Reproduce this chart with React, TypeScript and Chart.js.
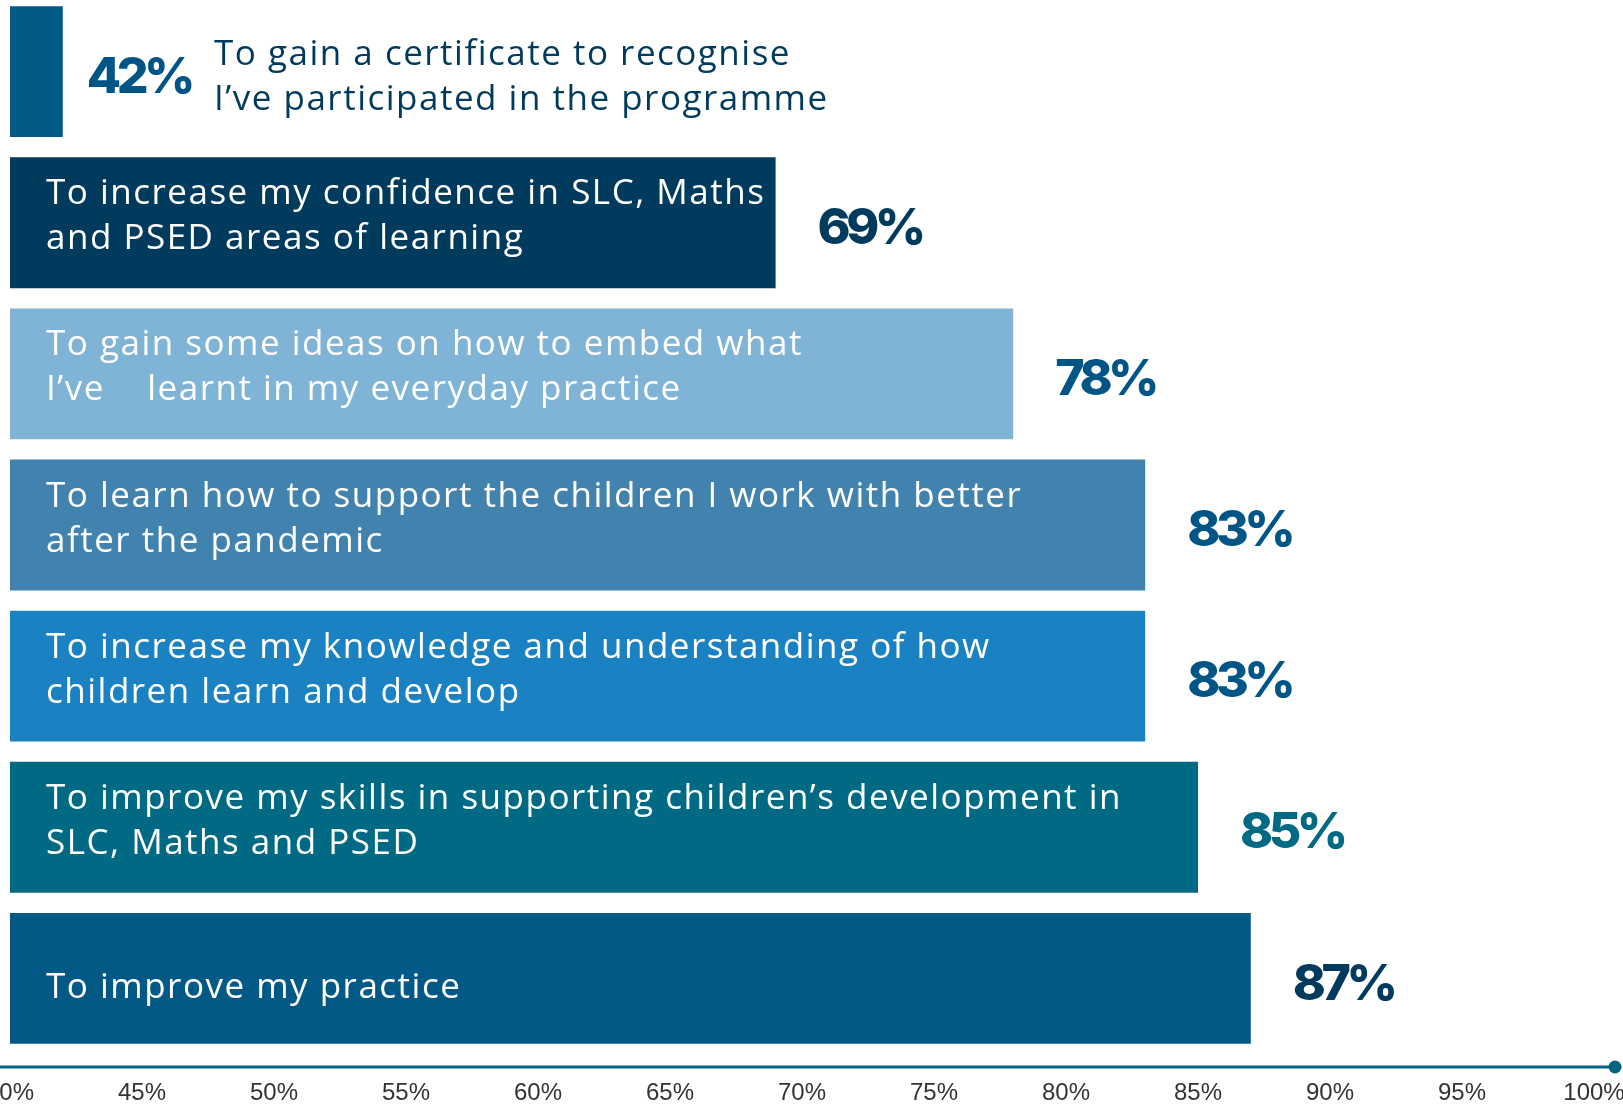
import React, { useEffect, useRef } from "react";
import { Chart, registerables } from "chart.js";

Chart.register(...registerables);

// ---------- data ----------
const categories: string[][] = [
  ["To gain a certificate to recognise", "I’ve participated in the programme"],
  ["To increase my confidence in SLC, Maths", "and PSED areas of learning"],
  ["To gain some ideas on how to embed what", "I’ve    learnt in my everyday practice"],
  ["To learn how to support the children I work with better", "after the pandemic"],
  ["To increase my knowledge and understanding of how", "children learn and develop"],
  ["To improve my skills in supporting children’s development in", "SLC, Maths and PSED"],
  ["To improve my practice"],
];
const values = [42, 69, 78, 83, 83, 85, 87];
const valueLabels = ["42%", "69%", "78%", "83%", "83%", "85%", "87%"];
const axisMin = 40;
const axisMax = 100;
const axisStep = 5;

// ---------- styles ----------
const barColors = ["#035a87", "#003a5d", "#7fb4d7", "#4183ae", "#1a82c2", "#006a85", "#035985"];
const valueColors = ["#005587", "#003a5d", "#005587", "#005587", "#005587", "#006a85", "#003a5d"];
const outsideTextColor = "#003a5d";
const TEXT_FONT = '"Open Sans", "Noto Sans", sans-serif';
const TEXT_SIZE = 35;
const TEXT_SPACING = "1.5px";
const PCT_FONT = 'Inter, "Noto Sans", sans-serif';
const PCT_SIZE = 50;
const PCT_SPACING = "-4.5px";

const W = 1623;
const H = 1110;

const barTextPlugin = {
  id: "barText",
  afterDatasetsDraw(chart: any) {
    const ctx: CanvasRenderingContext2D = chart.ctx;
    const meta = chart.getDatasetMeta(0);
    meta.data.forEach((bar: any, i: number) => {
      const p = bar.getProps(["x", "y", "base"], true);
      const x = p.x, y = p.y, base = p.base;
      const lines = categories[i];
      ctx.save();
      ctx.textAlign = "left";
      ctx.textBaseline = "alphabetic";

      // narrow bars carry their text outside, next to the value
      ctx.font = `400 ${TEXT_SIZE}px ${TEXT_FONT}`;
      (ctx as any).letterSpacing = TEXT_SPACING;
      const longest = Math.max(...lines.map((l) => ctx.measureText(l).width));
      const fitsInside = x - base > longest / 2;

      // percentage label
      ctx.font = `800 ${PCT_SIZE}px ${PCT_FONT}`;
      (ctx as any).letterSpacing = PCT_SPACING;
      ctx.fillStyle = valueColors[i];
      const pctX = x + (fitsInside ? 42 : 24);
      const capH = PCT_SIZE * 0.727;
      ctx.fillText(valueLabels[i], pctX, y + 3 + capH / 2);
      const pctW = ctx.measureText(valueLabels[i]).width;

      // category text
      ctx.font = `400 ${TEXT_SIZE}px ${TEXT_FONT}`;
      (ctx as any).letterSpacing = TEXT_SPACING;
      if (fitsInside) {
        ctx.fillStyle = "#ffffff";
        const tx = base + 36;
        if (lines.length === 1) {
          ctx.fillText(lines[0], tx, y + 20);
        } else {
          ctx.fillText(lines[0], tx, y - 18.5);
          ctx.fillText(lines[1], tx, y + 26.5);
        }
      } else {
        ctx.fillStyle = outsideTextColor;
        const tx = pctX + pctW + 23;
        ctx.fillText(lines[0], tx, y - 6.5);
        if (lines[1]) ctx.fillText(lines[1], tx, y + 38.5);
      }
      ctx.restore();
    });
  },
};

const axisLinePlugin = {
  id: "axisLine",
  afterDraw(chart: any) {
    const ctx: CanvasRenderingContext2D = chart.ctx;
    const ly = chart.chartArea.bottom + 13;
    const endX = chart.width - 8;
    ctx.save();
    ctx.strokeStyle = "#00657f";
    ctx.lineWidth = 3;
    ctx.beginPath();
    ctx.moveTo(0, ly);
    ctx.lineTo(endX, ly);
    ctx.stroke();
    ctx.fillStyle = "#00657f";
    ctx.beginPath();
    ctx.arc(endX, ly, 6.5, 0, Math.PI * 2);
    ctx.fill();
    ctx.restore();
  },
};

export default function App() {
  const canvasRef = useRef<HTMLCanvasElement | null>(null);

  useEffect(() => {
    const canvas = canvasRef.current;
    if (!canvas) return;
    const chart = new Chart(canvas, {
      type: "bar",
      data: {
        labels: categories,
        datasets: [
          {
            data: values,
            backgroundColor: barColors,
            borderWidth: 0,
            barPercentage: 0.866,
            categoryPercentage: 1,
            base: axisMin,
          },
        ],
      },
      options: {
        indexAxis: "y",
        responsive: false,
        animation: false,
        devicePixelRatio: 1,
        layout: { padding: { top: 2, bottom: 0, left: 10, right: 29 } },
        plugins: {
          legend: { display: false },
          tooltip: { enabled: false },
          title: { display: false },
        },
        scales: {
          x: {
            type: "linear",
            position: "bottom",
            min: axisMin,
            max: axisMax,
            grid: { display: false, drawTicks: false },
            border: { display: false },
            ticks: {
              stepSize: axisStep,
              padding: 25,
              color: "#333333",
              font: { family: '"Liberation Sans", Arial, sans-serif', size: 24 },
              maxRotation: 0,
              autoSkip: false,
              callback: (v: any) => `${v}%`,
            },
            afterFit: (scale: any) => {
              scale.paddingLeft = 0;
              scale.paddingRight = 0;
              scale.height = 50;
            },
          },
          y: {
            type: "category",
            display: false,
            offset: true,
          },
        },
      },
      plugins: [barTextPlugin, axisLinePlugin],
    } as any);
    return () => chart.destroy();
  }, []);

  return (
    <div
      style={{
        position: "absolute",
        left: 0,
        top: 0,
        width: W,
        height: 1104,
        overflow: "hidden",
        background: "#ffffff",
      }}
    >
      <canvas
        ref={canvasRef}
        width={W}
        height={H}
        style={{ position: "absolute", left: 0, top: -6, width: W, height: H }}
      />
    </div>
  );
}
